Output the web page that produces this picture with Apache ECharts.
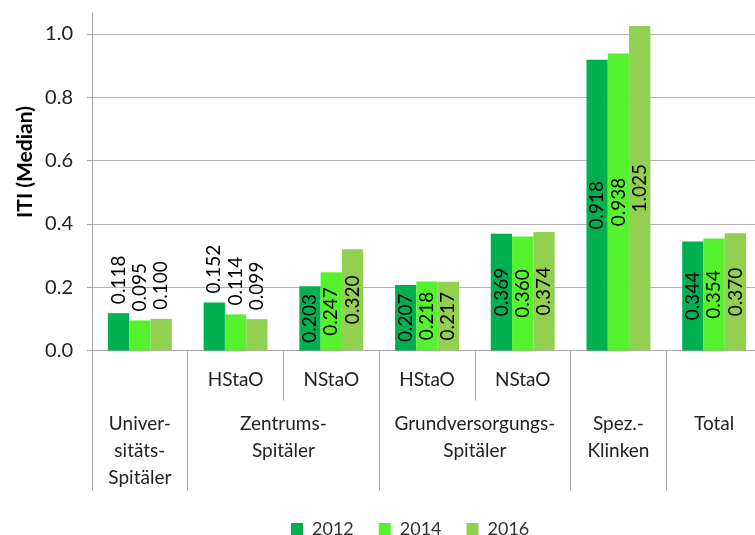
<!DOCTYPE html>
<html>
<head>
<meta charset="utf-8">
<script src="https://cdn.jsdelivr.net/npm/echarts@6/dist/echarts.min.js"></script>
<style>
  html, body { margin: 0; padding: 0; background: #fff; }
  #chart { width: 755px; height: 535px; }
</style>
</head>
<body>
<div id="chart"></div>
<script>
// data
var subLabels = ['', 'HStaO', 'NStaO', 'HStaO', 'NStaO', '', ''];
var groupLabels = ['Univer-\nsitäts-\nSpitäler', 'Zentrums-\nSpitäler', 'Grundversorgungs-\nSpitäler', 'Spez.-\nKlinken', 'Total'];
var groupCenters = [0.5, 2, 4, 5.5, 6.5];
var groupBounds = [0, 1, 3, 5, 6, 7];
var years = ['2012', '2014', '2016'];
var v2012 = [0.118, 0.152, 0.203, 0.207, 0.369, 0.918, 0.344];
var v2014 = [0.095, 0.114, 0.247, 0.218, 0.360, 0.938, 0.354];
var v2016 = [0.100, 0.099, 0.320, 0.217, 0.374, 1.025, 0.370];
var colors = ['#00B050', '#57F22E', '#92D050'];

var FONT = 'Lato';
var GRAY = '#a6a6a6';

// kleine Balken: Beschriftung oberhalb, sonst mittig im Balken
function makeData(vals) {
  return vals.map(function (v) {
    var small = v < 0.18;
    return {
      value: v,
      label: small
        ? { position: 'top', align: 'left', verticalAlign: 'middle', distance: 9 }
        : { position: 'inside', align: 'center', verticalAlign: 'middle' }
    };
  });
}

function makeSeries(name, vals, color) {
  return {
    name: name,
    type: 'bar',
    xAxisIndex: 0,
    barWidth: 21.3,
    barGap: '0%',
    itemStyle: { color: color },
    label: {
      show: true,
      rotate: 90,
      color: '#000',
      fontFamily: FONT,
      fontSize: 19,
      formatter: function (p) { return p.value.toFixed(3); }
    },
    data: makeData(vals)
  };
}

var chart = echarts.init(document.getElementById('chart'));

var option = {
  animation: false,
  color: colors,
  grid: { left: 92, width: 670, top: 13, bottom: 184.5, outerBoundsMode: 'none' },
  legend: {
    data: years,
    top: 520,
    left: 291,
    padding: 0,
    icon: 'rect',
    itemWidth: 12,
    itemHeight: 12,
    itemGap: 25,
    textStyle: { fontFamily: FONT, fontSize: 18, color: '#333', padding: [0, 0, 0, 4] }
  },
  graphic: [{
    type: 'text',
    x: 25,
    y: 162,
    rotation: Math.PI / 2,
    style: {
      text: 'ITI (Median)',
      font: 'bold 21px Lato',
      fill: '#000',
      align: 'center',
      verticalAlign: 'middle'
    }
  }],
  xAxis: [{
    type: 'category',
    data: subLabels,
    axisLine: { lineStyle: { color: GRAY } },
    axisTick: { show: true, length: 50, interval: 0, alignWithLabel: false, lineStyle: { color: GRAY } },
    axisLabel: { interval: 0, margin: 20, fontFamily: FONT, fontSize: 19, color: '#222' }
  }, {
    type: 'value',
    position: 'bottom',
    min: 0,
    max: 7,
    axisLine: { show: false },
    splitLine: { show: false },
    axisTick: { show: true, customValues: groupBounds, length: 140, lineStyle: { color: GRAY } },
    axisLabel: {
      customValues: groupCenters,
      margin: 60,
      lineHeight: 27,
      fontFamily: FONT,
      fontSize: 19,
      color: '#222',
      formatter: function (v) { return groupLabels[groupCenters.indexOf(v)]; }
    }
  }],
  yAxis: {
    type: 'value',
    min: 0,
    max: 1.066,
    interval: 0.2,
    axisLine: { show: true, lineStyle: { color: GRAY } },
    axisTick: { show: true, length: 5, lineStyle: { color: GRAY } },
    splitLine: { showMaxLine: false, lineStyle: { color: '#b3b3b3' } },
    axisLabel: {
      margin: 19,
      fontFamily: FONT,
      fontSize: 20,
      color: '#222',
      showMaxLabel: false,
      formatter: function (v) { return v.toFixed(1); }
    }
  },
  series: [
    makeSeries(years[0], v2012, colors[0]),
    makeSeries(years[1], v2014, colors[1]),
    makeSeries(years[2], v2016, colors[2])
  ]
};

chart.setOption(option);
</script>
</body>
</html>
